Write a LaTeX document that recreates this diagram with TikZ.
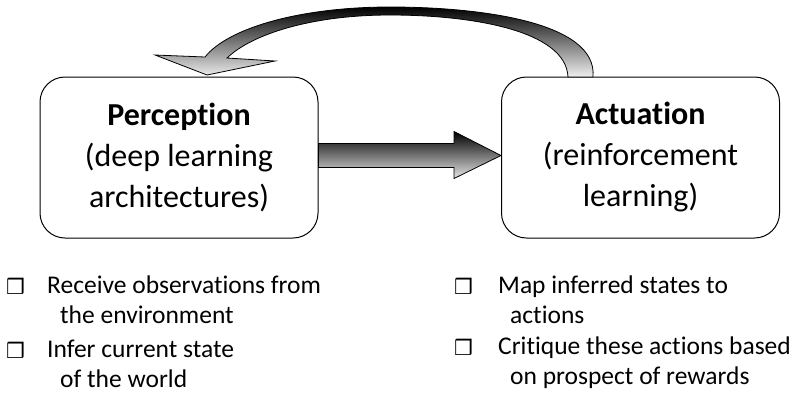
\documentclass[tikz,border=0pt]{standalone}
\usepackage{fontspec}
\setmainfont{Carlito}[Ligatures={NoCommon}]
\newfontfamily\symfont{DejaVu Sans}
\usetikzlibrary{calc}
\tikzset{
  stagebox/.style={draw, line width=1pt, rounded corners=25pt, minimum width=278pt,
    minimum height=161pt, align=center, font=\fontsize{32}{41}\selectfont},
  bullettext/.style={anchor=base west, inner sep=0pt, font=\fontsize{25.5}{30}\selectfont},
  bulletmark/.style={anchor=base west, inner sep=0pt, font=\symfont\fontsize{21}{21}\selectfont},
  shadedarrow/.style={draw=black, line width=0.8pt, top color=black, bottom color=gray!20}
}
\begin{document}
\begin{tikzpicture}[x=1pt,y=-1pt]
\useasboundingbox (0,0) rectangle (800,392);
% the two stages
\node[stagebox] (perc) at (179,157.5) {\textbf{Perception}\\(deep learning\\architectures)};
\node[stagebox] (act) at (640.5,157.5) {\textbf{Actuation}\\(reinforcement\\learning)};
% forward arrow
\shade[shadedarrow] ($(perc.east)+(0,-14)$) -- ($(act.west)+(-47,-14)$)
  -- ($(act.west)+(-47,-26)$) -- ($(act.west)+(0,-2)$)
  -- ($(act.west)+(-47,21)$) -- ($(act.west)+(-47,10)$)
  -- ($(perc.east)+(0,10)$) -- cycle;
% feedback arrow
\shade[shadedarrow, bottom color=gray!12] (593,77) .. controls (598,22) and (480,7) .. (390,7)
  .. controls (300,7) and (228,28) .. (205,57)
  -- (155,55) -- (207,75) -- (275,61) -- (227,58)
  .. controls (252,34) and (312,15) .. (390,15)
  .. controls (470,15) and (566,30) .. (568,77) -- cycle;
% perception tasks
\node[bulletmark] (b1) at (6,294) {❒};
\node[bullettext] (obs) at (47,293) {Receive observations from};
\node[bullettext] (obs2) at (60,323) {the environment};
\node[bulletmark] (b2) at (6,358) {❒};
\node[bullettext] (inf) at (47,357) {Infer current state};
\node[bullettext] (inf2) at (60,387) {of the world};
% actuation tasks
\node[bulletmark] (b3) at (454,294) {❒};
\node[bullettext] (map) at (498,293) {Map inferred states to};
\node[bullettext] (map2) at (510,323) {actions};
\node[bulletmark] (b4) at (454,355) {❒};
\node[bullettext] (crit) at (498,354) {Critique these actions based};
\node[bullettext] (crit2) at (510,384) {on prospect of rewards};
\end{tikzpicture}
\end{document}
